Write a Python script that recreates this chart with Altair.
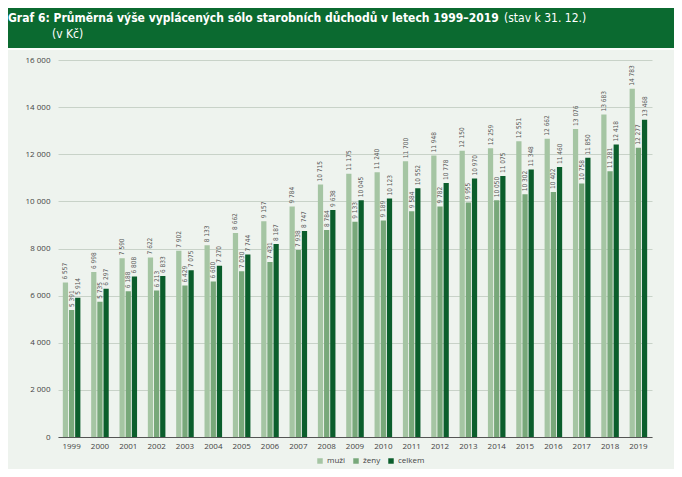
import altair as alt
import pandas as pd

years = ["1999", "2000", "2001", "2002", "2003", "2004", "2005", "2006", "2007", "2008",
         "2009", "2010", "2011", "2012", "2013", "2014", "2015", "2016", "2017", "2018", "2019"]
muzi = [6557, 6998, 7590, 7622, 7902, 8133, 8662, 9157, 9784, 10715,
        11175, 11240, 11700, 11948, 12150, 12259, 12551, 12662, 13076, 13683, 14783]
zeny = [5391, 5735, 6188, 6213, 6429, 6600, 7030, 7431, 7938, 8784,
        9133, 9189, 9584, 9782, 9955, 10050, 10302, 10402, 10758, 11281, 12277]
celkem = [5914, 6297, 6808, 6833, 7075, 7270, 7744, 8187, 8747, 9638,
          10045, 10123, 10552, 10778, 10970, 11075, 11348, 11460, 11850, 12418, 13468]
series_names = ["muži", "ženy", "celkem"]
series_colors = ["#a5c5a3", "#78a87a", "#0b5e2c"]
y_ticks = [0, 2000, 4000, 6000, 8000, 10000, 12000, 14000, 16000]

title_bold = "Graf 6: Průměrná výše vyplácených sólo starobních důchodů v letech 1999–2019"
title_rest = "(stav k 31. 12.)"
title_line2 = "(v Kč)"

rows = []
for name, vals in zip(series_names, [muzi, zeny, celkem]):
    for yr, v in zip(years, vals):
        rows.append({"year": yr, "series": name, "value": v,
                     "label": f"{v:,}".replace(",", " ")})
df = pd.DataFrame(rows)

FONT = "Open Sans"
NARROW = "DejaVu Sans Condensed, Roboto, sans-serif"

x_enc = alt.X("year:N", sort=years, title=None,
              scale=alt.Scale(paddingInner=0.38, paddingOuter=0.17),
              axis=alt.Axis(labelAngle=0, ticks=False, domain=True, domainColor="#555555",
                            domainWidth=1, labelFontSize=8, labelColor="#444444",
                            labelPadding=5, labelFont=FONT))
xo_enc = alt.XOffset("series:N", sort=series_names, scale=alt.Scale(paddingInner=0.15))
y_enc = alt.Y("value:Q", title=None, scale=alt.Scale(domain=[0, 16000], nice=False),
              axis=alt.Axis(values=y_ticks, ticks=False, domain=False, grid=True,
                            gridColor="#c8d2c8", gridWidth=1, labelFontSize=8,
                            labelColor="#444444", labelPadding=8, labelFont=FONT,
                            labelExpr="replace(format(datum.value, ','), ',', ' ')"))

base = alt.Chart(df)
bars = base.mark_bar().encode(
    x=x_enc, xOffset=xo_enc, y=y_enc,
    color=alt.Color("series:N", sort=series_names,
                    scale=alt.Scale(domain=series_names, range=series_colors),
                    legend=alt.Legend(title=None, orient="none", legendX=258, legendY=397,
                                      direction="horizontal", symbolType="square",
                                      symbolSize=30, symbolStrokeWidth=0, labelFontSize=8,
                                      labelColor="#444444", labelFont=FONT,
                                      columnPadding=6, labelOffset=3)),
)
labels = base.mark_text(angle=270, align="left", baseline="middle", dx=3,
                        fontSize=6.5, color="#555555", font=NARROW).encode(
    x=x_enc, xOffset=xo_enc, y=y_enc, text="label:N")

one = pd.DataFrame({"k": [0]})
band = alt.Chart(one).mark_rect(color="#0b6a30").encode(
    x=alt.value(-60), x2=alt.value(630), y=alt.value(-62), y2=alt.value(-12))
sep = alt.Chart(one).mark_rule(color="#ffffff", strokeWidth=1.5).encode(
    x=alt.value(-60), x2=alt.value(630), y=alt.value(-11))
t1 = alt.Chart(one).mark_text(align="left", baseline="alphabetic", color="white",
                              fontSize=12, fontWeight="bold", font=NARROW).encode(
    x=alt.value(-50), y=alt.value(-38), text=alt.value(title_bold))
t2 = alt.Chart(one).mark_text(align="left", baseline="alphabetic", color="white",
                              fontSize=12, font=NARROW).encode(
    x=alt.value(446), y=alt.value(-38), text=alt.value(title_rest))
t3 = alt.Chart(one).mark_text(align="left", baseline="alphabetic", color="white",
                              fontSize=12, font=NARROW).encode(
    x=alt.value(-6), y=alt.value(-22), text=alt.value(title_line2))

chart = alt.layer(bars, labels, band, sep, t1, t2, t3).properties(
    width=594, height=377,
    autosize=alt.AutoSizeParams(type="none"),
    padding={"left": 50, "top": 52, "right": 22, "bottom": 32},
).configure(background="#eef3ee", font=FONT).configure_view(stroke=None)

chart.save("out.html", embed_options={"renderer": "svg", "actions": False})
